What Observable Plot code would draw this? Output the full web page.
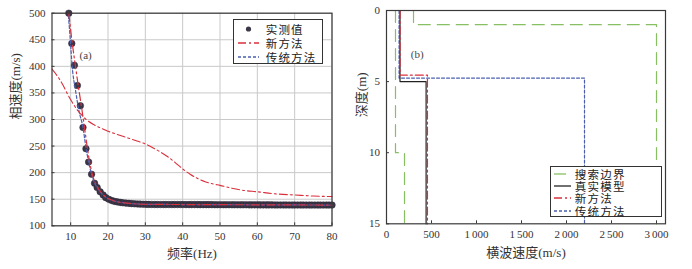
<!DOCTYPE html>
<html>
<head>
<meta charset="utf-8">
<script src="https://cdn.jsdelivr.net/npm/d3@7"></script>
<script src="https://cdn.jsdelivr.net/npm/@observablehq/plot@0.6"></script>
<style>
  html, body { margin: 0; padding: 0; background: #fff; }
  #wrap { position: relative; width: 692px; height: 269px; overflow: hidden; background: #fff; }
  .panel { position: absolute; top: 0; width: 346px; height: 269px; }
  .legend { position: absolute; background: #fff; border: 1.3px solid #333; box-sizing: border-box;
            font-family: "Noto Sans CJK SC", sans-serif; font-size: 11.5px; color: #222; letter-spacing: 1.2px; }
  .legend .row { position: absolute; left: 0; height: 12px; line-height: 12px; white-space: nowrap; }
  .legend svg { position: absolute; top: 0; left: 0; }
  .legend span { position: absolute; top: 0; height: 12px; line-height: 12px; }
</style>
</head>
<body>
<div id="wrap">
  <div id="pa" class="panel" style="left:0"></div>
  <div id="pb" class="panel" style="left:346px"></div>
</div>
<script>
// ---------- Panel (a) data ----------
const xTicksA = [10, 20, 30, 40, 50, 60, 70, 80];
const yTicksA = [100, 150, 200, 250, 300, 350, 400, 450, 500];
const legendA = ["实测值", "新方法", "传统方法"];
const xLabelA = "频率(Hz)";
const yLabelA = "相速度(m/s)";
// measured phase velocity [frequency Hz, velocity m/s]
const measured = [
  [9.5,500],[10.3,443],[11.0,402],[11.8,364],[12.6,326],[13.3,285],[14.1,245],[14.8,220],[15.6,197],[16.4,180],
  [17.1,172],[17.9,164],[18.7,158],[19.4,153],[20.2,150],[21.0,147.5],[21.7,146],[22.5,145],[23.3,144],[24.0,143.3],
  [24.8,142.7],[25.6,142.2],[26.3,141.8],[27.1,141.4],[27.9,141.1],[28.6,140.8],[29.4,140.6],[30.2,140.4],[30.9,140.3],[31.7,140.2],
  [32.5,140.1],[33.2,140.0],[34.0,140],[34.8,140],[35.5,140],[36.3,140],[37.1,140],[37.8,140],[38.6,140],[39.4,140],
  [40.1,140],[40.9,139.9],[41.7,139.9],[42.4,139.9],[43.2,139.9],[44.0,139.9],[44.7,139.8],[45.5,139.8],[46.3,139.8],[47.0,139.8],
  [47.8,139.8],[48.6,139.7],[49.3,139.7],[50.1,139.7],[50.9,139.7],[51.6,139.6],[52.4,139.6],[53.2,139.6],[53.9,139.6],[54.7,139.5],
  [55.5,139.5],[56.2,139.5],[57.0,139.5],[57.8,139.4],[58.5,139.4],[59.3,139.4],[60.1,139.4],[60.8,139.3],[61.6,139.3],[62.4,139.3],
  [63.1,139.3],[63.9,139.3],[64.7,139.2],[65.4,139.2],[66.2,139.2],[67.0,139.2],[67.7,139.2],[68.5,139.1],[69.3,139.1],[70.0,139.1],
  [70.8,139.1],[71.6,139.1],[72.3,139.1],[73.1,139.0],[73.9,139.0],[74.6,139.0],[75.4,139.0],[76.2,139.0],[76.9,139.0],[77.7,139.0],
  [78.5,139.0],[79.2,139.0],[80.0,139.0]
];
// new method: fitted fundamental curve
const newFit = [
  [9.5,500],[10.3,450],[11.3,400],[12.0,365],[12.7,333],[13.4,300],[14.0,270],[14.6,240],[15.3,212],[16.0,192],
  [16.8,178],[17.6,168],[18.5,160],[19.5,154],[20.5,150],[22,146],[24,143.5],[27,141.5],[30,140.5],[40,140],[60,139.5],[80,139]
];
// new method: second curve
const newMode = [
  [5,395],[6,386],[7,376],[8,364],[9,350],[10,337],[11,326],[12,316],[13,308],[14,301],[16,291],[18,284],[20,278],
  [22,273],[25,266],[28,259],[30,254],[32,247],[34,239],[36,230],[38,219],[40,207],[42,197],[44,189],[46,183],
  [48,179],[50,176],[53,171],[56,167],[60,164],[65,160],[70,158],[75,156],[80,155]
];
// traditional method curve
const oldFit = [
  [9.4,495],[9.9,450],[10.4,400],[11.3,355],[12.2,317],[13.3,285],[14.1,247],[14.8,220],[15.6,197],[16.4,181],
  [17.2,171],[18,163],[19,156],[20,151],[22,146],[24,143.5],[27,141.5],[30,140.5],[40,140],[60,139.5],[80,139]
];

// ---------- Panel (b) data ----------
const xTicksB = [0, 500, 1000, 1500, 2000, 2500, 3000];
const xTickLabelsB = ["0", "500", "1\u2009000", "1\u2009500", "2\u2009000", "2\u2009500", "3\u2009000"];
const yTicksB = [0, 5, 10, 15];
const legendB = ["搜索边界", "真实模型", "新方法", "传统方法"];
const xLabelB = "横波速度(m/s)";
const yLabelB = "深度(m)";
// [shear velocity m/s, depth m]
const lowerBound = [[100,0],[100,10],[200,10],[200,15]];
const upperBound = [[300,0],[300,1],[3000,1],[3000,15]];
const trueModel  = [[150,0],[150,5],[440,5],[440,15]];
const newModel   = [[150,0],[150,4.55],[455,4.55],[455,15]];
const oldModel   = [[140,0],[140,4.75],[2200,4.75],[2200,15]];

// ---------- styles ----------
const RED = "#d9303c", BLUE = "#4a5fb0", GREEN = "#86c063", DOT = "#3b3747", FRAME = "#3a3a3a";
const DASHDOT = "8,3,2,3", DOTTED = "3,2", LONGDASH = "12,7";
const FONT = "'Liberation Serif', 'Noto Sans CJK SC', serif";
const X = d => d[0], Y = d => d[1];

const plotA = Plot.plot({
  width: 346, height: 269,
  marginLeft: 51.5, marginRight: 14.5, marginTop: 12.7, marginBottom: 43.7,
  style: { fontFamily: FONT, fontSize: "11px", color: "#333", background: "transparent" },
  x: { domain: [5, 80] },
  y: { domain: [100, 500] },
  marks: [
    Plot.gridX(xTicksA, { stroke: "#c9c9c9", strokeOpacity: 1, strokeWidth: 1 }),
    Plot.gridY(yTicksA, { stroke: "#c9c9c9", strokeOpacity: 1, strokeWidth: 1 }),
    Plot.dot(measured, { x: X, y: Y, r: 3.3, fill: DOT, stroke: "#2a2535", strokeWidth: 0.5 }),
    Plot.line(oldFit, { x: X, y: Y, curve: "monotone-x", stroke: BLUE, strokeWidth: 1.2, strokeDasharray: DOTTED }),
    Plot.line(newFit, { x: X, y: Y, curve: "monotone-x", stroke: RED, strokeWidth: 1.2, strokeDasharray: DASHDOT }),
    Plot.line(newMode, { x: X, y: Y, curve: "monotone-x", stroke: RED, strokeWidth: 1.1, strokeDasharray: DASHDOT }),
    Plot.frame({ stroke: FRAME, strokeWidth: 1.2 }),
    Plot.axisX(xTicksA, { tickSize: -3, tickPadding: 9.5, label: null, stroke: FRAME }),
    Plot.axisY(yTicksA, { tickSize: -3, tickPadding: 9.5, label: null, stroke: FRAME }),
    Plot.text([xLabelA], { text: d => d, frameAnchor: "bottom", dy: 32, fontSize: 13, fill: "#333" }),
    Plot.text([yLabelA], { text: d => d, frameAnchor: "left", dx: -36.5, rotate: -90, fontSize: 13, fill: "#333" }),
    Plot.text(["(a)"], { text: d => d, frameAnchor: "top-left", textAnchor: "start", dx: 27.5, dy: 38, fontSize: 11, fill: "#444" })
  ]
});
document.getElementById("pa").appendChild(plotA);

const plotB = Plot.plot({
  width: 346, height: 269,
  marginLeft: 40, marginRight: 27, marginTop: 10, marginBottom: 45.7,
  style: { fontFamily: FONT, fontSize: "11px", color: "#333", background: "transparent" },
  x: { domain: [0, 3100] },
  y: { domain: [0, 15], reverse: true },
  marks: [
    Plot.line(lowerBound, { x: X, y: Y, stroke: GREEN, strokeWidth: 1.2, strokeDasharray: LONGDASH }),
    Plot.line(upperBound, { x: X, y: Y, stroke: GREEN, strokeWidth: 1.2, strokeDasharray: LONGDASH }),
    Plot.line(oldModel, { x: X, y: Y, stroke: BLUE, strokeWidth: 1.2, strokeDasharray: DOTTED }),
    Plot.line(trueModel, { x: X, y: Y, stroke: "#222", strokeWidth: 1.2 }),
    Plot.line(newModel, { x: X, y: Y, stroke: RED, strokeWidth: 1.2, strokeDasharray: DASHDOT }),
    Plot.frame({ stroke: FRAME, strokeWidth: 1.2 }),
    Plot.axisX(xTicksB, { tickSize: -3, tickPadding: 9.5, label: null, stroke: FRAME,
      tickFormat: d => xTickLabelsB[xTicksB.indexOf(d)] }),
    Plot.axisY(yTicksB, { tickSize: -3, tickPadding: 9.5, label: null, stroke: FRAME }),
    Plot.text([xLabelB], { text: d => d, frameAnchor: "bottom", dy: 33, fontSize: 13, fill: "#333" }),
    Plot.text([yLabelB], { text: d => d, frameAnchor: "left", dx: -25, rotate: -90, fontSize: 13, fill: "#333" }),
    Plot.text(["(b)"], { text: d => d, frameAnchor: "top-left", textAnchor: "start", dx: 24.3, dy: 40, fontSize: 11, fill: "#444" })
  ]
});
document.getElementById("pb").appendChild(plotB);

// ---------- legends (HTML overlay) ----------
function sample(kind, color, dash, x0, x1) {
  if (kind === "dot") return `<svg width="${x1 + 2}" height="12"><circle cx="${(x0 + x1) / 2}" cy="6" r="2.6" fill="${DOT}"/></svg>`;
  return `<svg width="${x1 + 2}" height="12"><line x1="${x0}" x2="${x1}" y1="6" y2="6" stroke="${color}" stroke-width="1.3" ${dash ? `stroke-dasharray="${dash}"` : ""}/></svg>`;
}
function legend(parent, box, items, x0, x1, textLeft, rowTop, rowStep) {
  const el = document.createElement("div");
  el.className = "legend";
  Object.assign(el.style, { left: box[0] + "px", top: box[1] + "px", width: box[2] + "px", height: box[3] + "px" });
  el.innerHTML = items.map((it, i) =>
    `<div class="row" style="top:${rowTop + i * rowStep}px;width:100%">${sample(it.kind, it.color, it.dash, x0, x1)}<span style="left:${textLeft}px">${it.label}</span></div>`
  ).join("");
  parent.appendChild(el);
}
const wrap = document.getElementById("wrap");
legend(wrap, [232.7, 19, 90, 45], [
  { kind: "dot", label: legendA[0] },
  { kind: "line", color: RED, dash: DASHDOT, label: legendA[1] },
  { kind: "line", color: BLUE, dash: DOTTED, label: legendA[2] }
], 4, 25, 32, 3, 13.8);
legend(wrap, [550.3, 165.7, 112, 51.6], [
  { kind: "line", color: GREEN, dash: LONGDASH, label: legendB[0] },
  { kind: "line", color: "#222", dash: null, label: legendB[1] },
  { kind: "line", color: RED, dash: DASHDOT, label: legendB[2] },
  { kind: "line", color: BLUE, dash: DOTTED, label: legendB[3] }
], 3, 20, 23.5, 1, 12.3);
</script>
</body>
</html>
